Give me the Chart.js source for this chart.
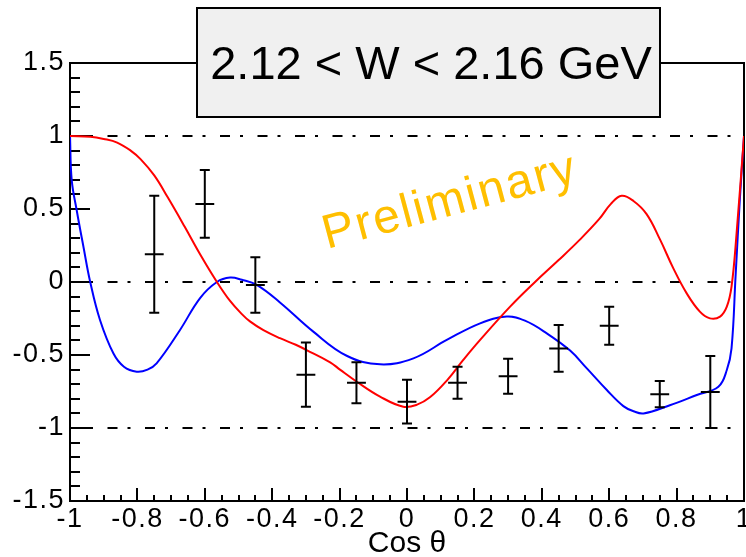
<!DOCTYPE html>
<html><head><meta charset="utf-8">
<script src="https://cdn.jsdelivr.net/npm/chart.js@4/dist/chart.umd.min.js"></script>
<style>html,body{margin:0;padding:0;background:#fff;}canvas{display:block;}</style>
</head><body>
<canvas id="c" width="746" height="557"></canvas>
<script>
// ---- data ----
const cosTheta  = [-0.75, -0.6, -0.45, -0.3, -0.15, 0, 0.15, 0.3, 0.45, 0.6, 0.75, 0.9];
const asymmetry = [0.19, 0.535, -0.02, -0.635, -0.69, -0.82, -0.69, -0.645, -0.455, -0.30, -0.768, -0.753];
const asymError = [0.40, 0.232, 0.19, 0.22, 0.14, 0.15, 0.11, 0.12, 0.16, 0.13, 0.09, 0.247];
const cosThetaHalfBin = [0.028, 0.028, 0.028, 0.028, 0.028, 0.028, 0.028, 0.028, 0.028, 0.028, 0.028, 0.028];

const redX = [-1.0, -0.94, -0.90, -0.86, -0.82, -0.79, -0.75, -0.71, -0.66, -0.614, -0.564, -0.525, -0.49, -0.466, -0.426,
  -0.377, -0.33, -0.298, -0.228, -0.199, -0.149, -0.08, -0.011, 0.03, 0.068, 0.12, 0.167, 0.217, 0.306, 0.38, 0.45,
  0.513, 0.57, 0.605, 0.637, 0.672, 0.711, 0.751, 0.79, 0.83, 0.869, 0.899, 0.929, 0.949, 0.963, 0.978, 1.0];
const redY = [1.0, 0.995, 0.98, 0.955, 0.90, 0.84, 0.73, 0.58, 0.38, 0.19, 0.0, -0.13, -0.22, -0.27, -0.33,
  -0.385, -0.43, -0.466, -0.55, -0.60, -0.683, -0.785, -0.854, -0.84, -0.79, -0.67, -0.534, -0.397, -0.169, 0.0, 0.15,
  0.29, 0.43, 0.535, 0.59, 0.555, 0.465, 0.29, 0.095, -0.078, -0.203, -0.249, -0.237, -0.169, -0.032, 0.333, 1.0];

const blueX = [-1.0, -0.995, -0.98, -0.96, -0.94, -0.911, -0.871, -0.84, -0.802, -0.77, -0.743, -0.674, -0.614, -0.564,
  -0.525, -0.49, -0.446, -0.377, -0.278, -0.179, -0.08, 0.019, 0.118, 0.217, 0.296, 0.35, 0.415, 0.484, 0.533, 0.593,
  0.642, 0.672, 0.702, 0.78, 0.86, 0.924, 0.949, 0.963, 0.975, 0.988, 1.0];
const blueY = [1.0, 0.70, 0.49, 0.24, 0.0, -0.26, -0.49, -0.58, -0.614, -0.60, -0.557, -0.33, -0.11, 0.0,
  0.03, 0.015, -0.02, -0.14, -0.34, -0.505, -0.564, -0.523, -0.397, -0.283, -0.237, -0.265, -0.352, -0.47, -0.59, -0.74,
  -0.85, -0.885, -0.90, -0.844, -0.774, -0.717, -0.603, -0.454, 0.04, 0.58, 1.0];

const refLevels = [1, 0, -1];
const xRange = [-1, 1];
const yRange = [-1.5, 1.5];
const xTickStep = 0.2, yTickStep = 0.5;
const titleText = '2.12 < W < 2.16 GeV';
const watermarkText = 'Preliminary';
const xAxisTitle = 'Cos \u03B8';

const fmt = v => (Math.abs(v) < 1e-9 ? '0' : String(+v.toFixed(1)));

const decor = {
  id: 'decor',
  beforeDatasetsDraw(chart) {
    const {ctx, chartArea: a, scales: {x, y}} = chart;
    ctx.save();
    ctx.strokeStyle = '#000';
    ctx.lineWidth = 2;
    ctx.beginPath();
    for (let k = 0; k <= 40; k++) {
      const px = Math.round(x.getPixelForValue(xRange[0] + k * 0.05));
      const len = (k % 4 === 0) ? 13 : 6;
      ctx.moveTo(px, a.bottom); ctx.lineTo(px, a.bottom - len);
    }
    for (let k = 0; k <= 30; k++) {
      const py = Math.round(y.getPixelForValue(yRange[0] + k * 0.1));
      const len = (k % 5 === 0) ? 20 : 10;
      ctx.moveTo(a.left, py); ctx.lineTo(a.left + len, py);
    }
    ctx.stroke();
    ctx.strokeRect(a.left, a.top, a.right - a.left, a.bottom - a.top);
    ctx.restore();
  },
  afterDatasetsDraw(chart) {
    const {ctx, scales: {x, y}} = chart;
    const meta = chart.getDatasetMeta(0);
    ctx.save();
    ctx.strokeStyle = '#000';
    ctx.lineWidth = 2;
    ctx.beginPath();
    meta.data.forEach((el, i) => {
      const px = el.x, py = el.y;
      const yHi = y.getPixelForValue(asymmetry[i] + asymError[i]);
      const yLo = y.getPixelForValue(asymmetry[i] - asymError[i]);
      const xL = x.getPixelForValue(cosTheta[i] - cosThetaHalfBin[i]);
      const xR = x.getPixelForValue(cosTheta[i] + cosThetaHalfBin[i]);
      ctx.moveTo(px, yHi); ctx.lineTo(px, yLo);
      ctx.moveTo(xL, py); ctx.lineTo(xR, py);
      ctx.moveTo(px - 5, yHi); ctx.lineTo(px + 5, yHi);
      ctx.moveTo(px - 5, yLo); ctx.lineTo(px + 5, yLo);
    });
    ctx.stroke();
    ctx.restore();
    // slightly wider tracking for tick labels (drawn after datasets, z = 1)
    ctx.letterSpacing = '1.5px';
  },
  afterDraw(chart) {
    const ctx = chart.ctx;
    ctx.letterSpacing = '0px';
    ctx.save();
    // watermark
    ctx.translate(327, 249);
    ctx.rotate(-15 * Math.PI / 180);
    ctx.fillStyle = '#ffbf00';
    ctx.font = '48px "Liberation Sans", Arial, sans-serif';
    ctx.letterSpacing = '2px';
    ctx.textAlign = 'left';
    ctx.textBaseline = 'alphabetic';
    ctx.fillText(watermarkText, 0, 0);
    ctx.restore();
    ctx.letterSpacing = '0px';
    // title box
    ctx.save();
    ctx.fillStyle = '#f0f0f0';
    ctx.fillRect(197, 8, 463, 109);
    ctx.strokeStyle = '#000';
    ctx.lineWidth = 2;
    ctx.strokeRect(197, 8, 463, 109);
    ctx.fillStyle = '#000';
    ctx.font = '47px "Liberation Sans", Arial, sans-serif';
    ctx.textAlign = 'center';
    ctx.textBaseline = 'alphabetic';
    ctx.fillText(titleText, 431, 79);
    ctx.restore();
  }
};

const tickFont = {family: '"Liberation Sans", Arial, sans-serif', size: 27};

new Chart(document.getElementById('c'), {
  type: 'line',
  data: {
    datasets: [
      {label: 'data', data: cosTheta.map((v, i) => ({x: v, y: asymmetry[i]})), showLine: false,
       pointRadius: 0, pointHoverRadius: 0},
      {label: 'red', data: redX.map((v, i) => ({x: v, y: redY[i]})), borderColor: '#ff0000',
       borderWidth: 2, pointRadius: 0, tension: 0.4, fill: false},
      {label: 'blue', data: blueX.map((v, i) => ({x: v, y: blueY[i]})), borderColor: '#0000ff',
       borderWidth: 2, pointRadius: 0, tension: 0.4, fill: false},
      ...refLevels.map(l => ({label: 'ref' + l, data: [{x: xRange[0], y: l}, {x: xRange[1], y: l}],
       borderColor: '#000', borderWidth: 2, borderDash: [10, 10, 3, 14.5], pointRadius: 0, fill: false}))
    ]
  },
  options: {
    responsive: false,
    animation: false,
    devicePixelRatio: 1,
    events: [],
    layout: {padding: {top: 63, right: 2, left: 0, bottom: 0}},
    plugins: {legend: {display: false}, tooltip: {enabled: false}, title: {display: false}},
    scales: {
      x: {
        type: 'linear', min: xRange[0], max: xRange[1],
        grid: {display: false, drawTicks: false}, border: {display: false},
        ticks: {stepSize: xTickStep, padding: 2, font: tickFont, color: '#000', z: 1,
                autoSkip: false, maxRotation: 0, callback: v => fmt(v)},
        title: {display: true, text: xAxisTitle, color: '#000',
                font: {family: '"Liberation Sans", Arial, sans-serif', size: 30, lineHeight: 0.8},
                padding: {top: 0, bottom: 1}},
        afterFit: s => { s.height = 56; s.paddingLeft = 0; s.paddingRight = 0; }
      },
      y: {
        type: 'linear', min: yRange[0], max: yRange[1],
        grid: {display: false, drawTicks: false}, border: {display: false},
        ticks: {stepSize: yTickStep, padding: 5, font: tickFont, color: '#000', z: 1,
                callback: v => fmt(v)},
        afterFit: s => { s.width = 70; s.paddingTop = 0; s.paddingBottom = 0; }
      }
    }
  },
  plugins: [decor]
});
</script>
</body></html>
